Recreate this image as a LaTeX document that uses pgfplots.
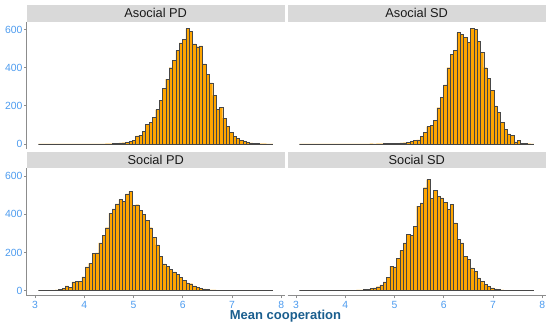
\documentclass[border=0pt]{standalone}
\usepackage{fontspec}
\setmainfont{Liberation Sans}
\usepackage{pgfplots}
\usepackage{pgfplotstable}
\pgfplotsset{compat=1.18}
\definecolor{barorange}{HTML}{FFA500}
\definecolor{stripgray}{HTML}{D9D9D9}
\definecolor{striptext}{HTML}{1A1A1A}
\definecolor{tickblue}{HTML}{4C9BEF}
\definecolor{labelblue}{HTML}{1A5E8E}
\definecolor{axisgray}{HTML}{8C8C8C}

\pgfplotstableread{
x apd asd spd ssd
3.069 0 0 0 0
3.137 0 0 0 0
3.205 0 0 1 0
3.273 0 0 1 0
3.341 0 0 2 0
3.409 0 0 3 0
3.477 0 0 5 0
3.545 0 0 10 0
3.613 0 0 25 0
3.682 0 0 18 0
3.750 0 0 46 0
3.818 0 0 50 0
3.886 0 0 49 0
3.954 0 0 72 0
4.022 0 0 125 1
4.090 0 0 143 1
4.158 0 0 194 2
4.226 0 0 198 3
4.294 0 0 250 4
4.362 0 0 289 6
4.430 1 0 330 8
4.498 1 1 405 10
4.566 2 0 429 14
4.634 3 1 455 20
4.702 5 1 478 30
4.771 6 2 469 45
4.839 8 2 508 70
4.907 12 3 521 128
4.975 20 3 448 124
5.043 42 4 451 170
5.111 46 5 420 210
5.179 65 6 400 250
5.247 102 8 370 294
5.315 112 12 330 289
5.383 138 20 280 338
5.451 180 21 240 443
5.519 230 40 180 460
5.587 290 60 140 540
5.655 340 91 127 583
5.723 400 96 112 485
5.791 440 122 98 527
5.860 490 190 84 496
5.928 530 245 68 487
5.996 548 310 53 462
6.064 605 400 40 427
6.132 592 470 36 453
6.200 525 490 24 355
6.268 510 584 17 268
6.336 515 575 12 250
6.404 420 558 9 180
6.472 365 532 6 163
6.540 320 607 4 119
6.608 255 600 3 102
6.676 180 540 2 67
6.744 192 480 1 49
6.812 135 400 1 32
6.880 92 345 0 23
6.949 60 280 0 14
7.017 40 200 0 9
7.085 28 166 0 5
7.153 18 113 0 3
7.221 12 78 0 2
7.289 7 52 0 1
7.357 5 45 0 1
7.425 3 10 0 0
7.493 2 17 0 0
7.561 1 4 0 0
7.629 1 2 0 0
7.697 0 1 0 0
7.765 0 0 0 0
7.833 0 0 0 0
}\hist

\pgfplotsset{
  panel/.style={
    scale only axis, width=258pt, height=127.4pt,
    xmin=2.831, xmax=8.071, ymin=-27, ymax=642,
    axis x line*=bottom, axis y line*=left,
    axis line style={-, draw=axisgray, line width=0.7pt},
    tick style={draw=axisgray, line width=0.7pt},
    tick align=outside, major tick length=2.6pt,
    xtick={3,4,5,6,7,8}, ytick={0,200,400,600},
    tick label style={font=\fontsize{10.4}{11}\selectfont, text=tickblue,
      /pgf/number format/assume math mode=true},
    yticklabel style={inner sep=1.5pt},
    xticklabel style={inner sep=0.5pt, yshift=-2.6pt},
    clip=false,
  },
  histo/.style={ybar interval, fill=barorange, draw=black!72, line width=0.33pt},
}

\newcommand{\strip}[1]{%
  \fill[stripgray] (rel axis cs:0,1) rectangle ([yshift=16.7pt]rel axis cs:1,1);
  \node[font=\fontsize{12.8}{13}\selectfont, text=striptext] at ([yshift=8.35pt]rel axis cs:0.5,1) {#1};
}

\begin{document}
\begin{tikzpicture}
\path[use as bounding box] (0,0) rectangle (550pt,327pt);

\begin{axis}[panel, at={(26.7pt,178pt)}, anchor=south west, hide x axis]
\addplot[histo] table[x=x,y=apd]{\hist};
\strip{Asocial PD}
\end{axis}

\begin{axis}[panel, at={(287.7pt,178pt)}, anchor=south west, hide x axis, hide y axis]
\addplot[histo] table[x=x,y=asd]{\hist};
\strip{Asocial SD}
\end{axis}

\begin{axis}[panel, at={(26.7pt,31.3pt)}, anchor=south west]
\addplot[histo] table[x=x,y=spd]{\hist};
\strip{Social PD}
\end{axis}

\begin{axis}[panel, at={(287.7pt,31.3pt)}, anchor=south west, hide y axis]
\addplot[histo] table[x=x,y=ssd]{\hist};
\strip{Social SD}
\end{axis}

\node[font=\bfseries\fontsize{13}{14}\selectfont, text=labelblue, inner sep=0.5pt] at (285.5pt,10.5pt) {Mean cooperation};
\end{tikzpicture}
\end{document}
